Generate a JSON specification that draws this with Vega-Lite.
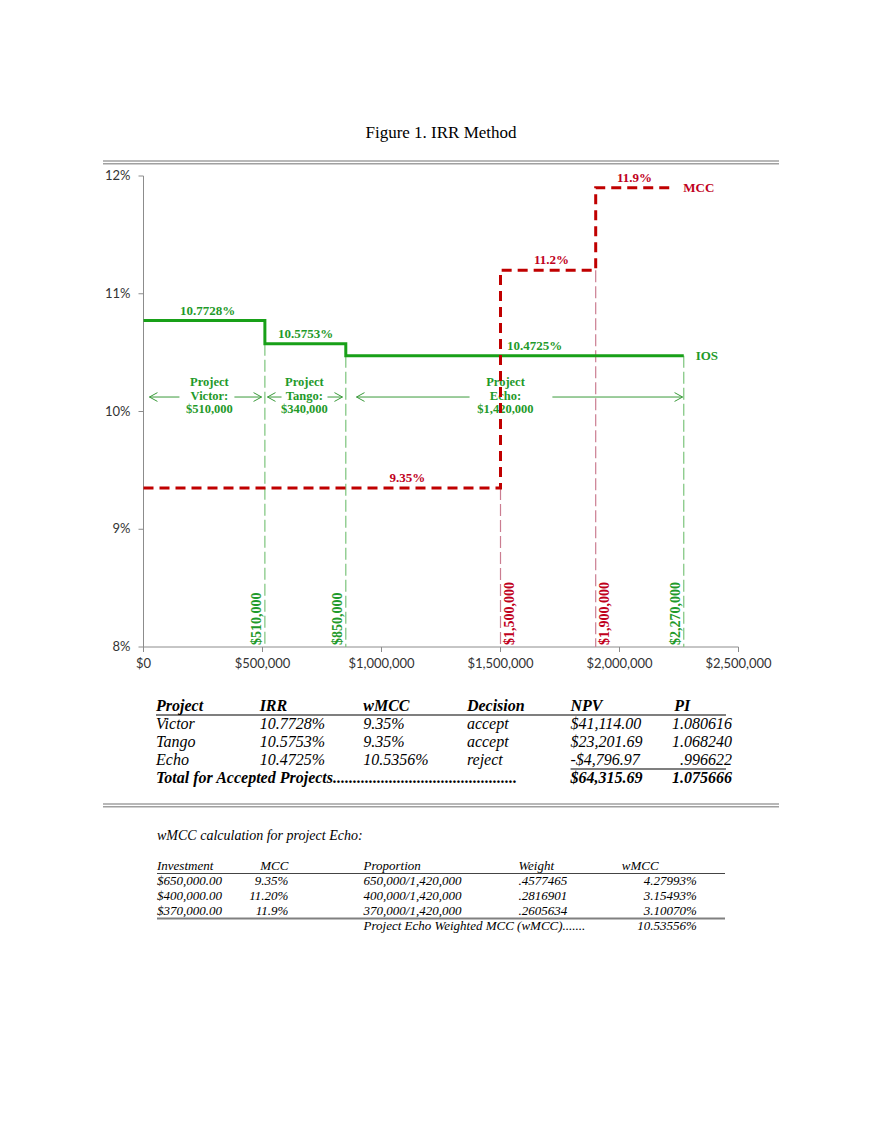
{
  "$schema": "https://vega.github.io/schema/vega-lite/v6.json",
  "padding": {"left": 102, "top": 124, "right": 10, "bottom": 10},
  "title": {"text": "Figure 1. IRR Method", "font": "Liberation Serif", "fontSize": 17, "fontWeight": "normal", "color": "#000000", "anchor": "middle", "offset": 18},
  "bounds": "flush",
  "center": true,
  "spacing": 0,
  "config": {"view": {"stroke": null}},
  "datasets": {
    "xticks": [
      {"amount": 0, "base": 8},
      {"amount": 500000, "base": 8},
      {"amount": 1000000, "base": 8},
      {"amount": 1500000, "base": 8},
      {"amount": 2000000, "base": 8},
      {"amount": 2500000, "base": 8}
    ],
    "yticks": [
      {"rate": 8, "amount": 0, "label": "8%"},
      {"rate": 9, "amount": 0, "label": "9%"},
      {"rate": 10, "amount": 0, "label": "10%"},
      {"rate": 11, "amount": 0, "label": "11%"},
      {"rate": 12, "amount": 0, "label": "12%"}
    ],
    "ios": [
      {"amount": 0, "rate": 10.7728},
      {"amount": 510000, "rate": 10.5753},
      {"amount": 850000, "rate": 10.4725},
      {"amount": 2270000, "rate": 10.4725}
    ],
    "mcc": [
      {"amount": 0, "rate": 9.35},
      {"amount": 1500000, "rate": 11.2},
      {"amount": 1900000, "rate": 11.9},
      {"amount": 2230000, "rate": 11.9}
    ],
    "guides": [
      {"amount": 510000, "rate": 10.5753, "base": 8, "series": "IOS"},
      {"amount": 850000, "rate": 10.4725, "base": 8, "series": "IOS"},
      {"amount": 2270000, "rate": 10.4725, "base": 8, "series": "IOS"},
      {"amount": 1500000, "rate": 9.35, "base": 8, "series": "MCC"},
      {"amount": 1900000, "rate": 11.2, "base": 8, "series": "MCC"}
    ],
    "labels": [
      {"series": "IOS", "kind": "value", "text": "10.7728%", "amount": 269000, "rate": 10.7728},
      {"series": "IOS", "kind": "value", "text": "10.5753%", "amount": 681000, "rate": 10.5753},
      {"series": "IOS", "kind": "value", "text": "10.4725%", "amount": 1643000, "rate": 10.4725},
      {"series": "MCC", "kind": "value", "text": "9.35%", "amount": 1109000, "rate": 9.35},
      {"series": "MCC", "kind": "value", "text": "11.2%", "amount": 1714000, "rate": 11.2},
      {"series": "MCC", "kind": "value", "text": "11.9%", "amount": 2063000, "rate": 11.9},
      {"series": "IOS", "kind": "name", "text": "IOS", "amount": 2320000, "rate": 10.4725},
      {"series": "MCC", "kind": "name", "text": "MCC", "amount": 2268000, "rate": 11.9}
    ],
    "spans": [
      {"project": "Victor", "label": "Project\nVictor:\n$510,000", "mid": 277000, "leftTip": 25000, "leftTail": 151000, "rightTail": 382000, "rightTip": 496000, "rate": 10.123},
      {"project": "Tango", "label": "Project\nTango:\n$340,000", "mid": 676000, "leftTip": 521000, "leftTail": 580000, "rightTail": 773000, "rightTip": 836000, "rate": 10.123},
      {"project": "Echo", "label": "Project\nEcho:\n$1,420,000", "mid": 1521000, "leftTip": 895000, "leftTail": 1370000, "rightTail": 1718000, "rightTip": 2265000, "rate": 10.123}
    ],
    "table1": [
      {"row": "header", "col": "Project", "text": "Project"},
      {"row": "header", "col": "IRR", "text": "IRR"},
      {"row": "header", "col": "wMCC", "text": "wMCC"},
      {"row": "header", "col": "Decision", "text": "Decision"},
      {"row": "header", "col": "NPV", "text": "NPV"},
      {"row": "header", "col": "PI", "text": "PI"},
      {"row": "Victor", "col": "Project", "text": "Victor"},
      {"row": "Victor", "col": "IRR", "text": "10.7728%"},
      {"row": "Victor", "col": "wMCC", "text": "9.35%"},
      {"row": "Victor", "col": "Decision", "text": "accept"},
      {"row": "Victor", "col": "NPV", "text": "$41,114.00"},
      {"row": "Victor", "col": "end", "text": "1.080616"},
      {"row": "Tango", "col": "Project", "text": "Tango"},
      {"row": "Tango", "col": "IRR", "text": "10.5753%"},
      {"row": "Tango", "col": "wMCC", "text": "9.35%"},
      {"row": "Tango", "col": "Decision", "text": "accept"},
      {"row": "Tango", "col": "NPV", "text": "$23,201.69"},
      {"row": "Tango", "col": "end", "text": "1.068240"},
      {"row": "Echo", "col": "Project", "text": "Echo"},
      {"row": "Echo", "col": "IRR", "text": "10.4725%"},
      {"row": "Echo", "col": "wMCC", "text": "10.5356%"},
      {"row": "Echo", "col": "Decision", "text": "reject"},
      {"row": "Echo", "col": "NPV", "text": "-$4,796.97"},
      {"row": "Echo", "col": "end", "text": ".996622"},
      {"row": "Total", "col": "Project", "text": "Total for Accepted Projects.............................................."},
      {"row": "Total", "col": "NPV", "text": "$64,315.69"},
      {"row": "Total", "col": "end", "text": "1.075666"}
    ],
    "table1Lines": [
      {"row": "u1", "from": "Project", "to": "end"},
      {"row": "u2", "from": "NPV", "to": "end"}
    ],
    "table2": [
      {"row": "title", "col": "Investment", "text": "wMCC calculation for project Echo:"},
      {"row": "header", "col": "Investment", "text": "Investment"},
      {"row": "header", "col": "MCC", "text": "MCC"},
      {"row": "header", "col": "Proportion", "text": "Proportion"},
      {"row": "header", "col": "Weight", "text": "Weight"},
      {"row": "header", "col": "wMCC", "text": "wMCC"},
      {"row": "r1", "col": "Investment", "text": "$650,000.00"},
      {"row": "r1", "col": "MCC", "text": "9.35%"},
      {"row": "r1", "col": "Proportion", "text": "650,000/1,420,000"},
      {"row": "r1", "col": "Weight", "text": ".4577465"},
      {"row": "r1", "col": "wMCC", "text": "4.27993%"},
      {"row": "r2", "col": "Investment", "text": "$400,000.00"},
      {"row": "r2", "col": "MCC", "text": "11.20%"},
      {"row": "r2", "col": "Proportion", "text": "400,000/1,420,000"},
      {"row": "r2", "col": "Weight", "text": ".2816901"},
      {"row": "r2", "col": "wMCC", "text": "3.15493%"},
      {"row": "r3", "col": "Investment", "text": "$370,000.00"},
      {"row": "r3", "col": "MCC", "text": "11.9%"},
      {"row": "r3", "col": "Proportion", "text": "370,000/1,420,000"},
      {"row": "r3", "col": "Weight", "text": ".2605634"},
      {"row": "r3", "col": "wMCC", "text": "3.10070%"},
      {"row": "total", "col": "Proportion", "text": "Project Echo Weighted MCC (wMCC)......."},
      {"row": "total", "col": "wMCC", "text": "10.53556%"}
    ],
    "table2Lines": [
      {"row": "u1", "from": "Investment", "to": "end"},
      {"row": "u2", "from": "Investment", "to": "end"}
    ]
  },
  "vconcat": [
    {
      "width": 676,
      "height": 2.7,
      "data": {"values": [{"line": "a"}, {"line": "b"}]},
      "mark": {"type": "rule", "color": "#a0a0a0", "strokeWidth": 1.4},
      "encoding": {"y": {"field": "line", "type": "nominal", "scale": {"type": "point", "padding": 0}, "axis": null}}
    },
    {"width": 10, "height": 11.3, "data": {"values": []}, "mark": "text"},
    {
      "width": 595,
      "height": 471,
      "encoding": {
        "x": {"field": "amount", "type": "quantitative", "scale": {"domain": [0, 2500000], "nice": false, "zero": false}, "axis": null},
        "y": {"field": "rate", "type": "quantitative", "scale": {"domain": [8, 12], "nice": false, "zero": false}, "axis": null}
      },
      "layer": [
        {
          "data": {"name": "xticks"},
          "mark": {"type": "rule", "color": "#8c8c8c", "strokeWidth": 1},
          "encoding": {
            "x": {"aggregate": "min", "field": "amount", "type": "quantitative", "scale": {"domain": [0, 2500000], "nice": false, "zero": false}, "axis": null},
            "x2": {"aggregate": "max", "field": "amount"},
            "y": {"field": "base", "type": "quantitative", "scale": {"domain": [8, 12], "nice": false, "zero": false}, "axis": null}
          }
        },
        {
          "data": {"name": "yticks"},
          "mark": {"type": "rule", "color": "#8c8c8c", "strokeWidth": 1},
          "encoding": {
            "y": {"aggregate": "min", "field": "rate", "type": "quantitative", "scale": {"domain": [8, 12], "nice": false, "zero": false}, "axis": null},
            "y2": {"aggregate": "max", "field": "rate"}
          }
        },
        {
          "data": {"name": "xticks"},
          "mark": {"type": "point", "shape": "M0,0L0,1.25", "filled": false, "size": 64, "color": "#8c8c8c", "strokeWidth": 1, "opacity": 1},
          "encoding": {
            "y": {"field": "base", "type": "quantitative", "scale": {"domain": [8, 12], "nice": false, "zero": false}, "axis": null}
          }
        },
        {
          "data": {"name": "yticks"},
          "mark": {"type": "point", "shape": "M0,0L-1.25,0", "filled": false, "size": 64, "color": "#8c8c8c", "strokeWidth": 1, "opacity": 1}
        },
        {
          "data": {"name": "xticks"},
          "mark": {"type": "text", "font": "Lato", "fontSize": 13, "color": "#333333", "align": "center", "baseline": "top", "dy": 11},
          "encoding": {
            "y": {"field": "base", "type": "quantitative", "scale": {"domain": [8, 12], "nice": false, "zero": false}, "axis": null},
            "text": {"field": "amount", "type": "quantitative", "format": "$,.0f"}
          }
        },
        {
          "data": {"name": "yticks"},
          "mark": {"type": "text", "font": "Lato", "fontSize": 13, "color": "#333333", "align": "right", "baseline": "middle", "dx": -13},
          "encoding": {"text": {"field": "label"}}
        },
        {
          "data": {"name": "guides"},
          "transform": [{"filter": "datum.series == 'IOS'"}],
          "mark": {"type": "rule", "color": "#7cc47c", "strokeWidth": 1.2, "strokeDash": [12, 4]},
          "encoding": {"y2": {"field": "base"}}
        },
        {
          "data": {"name": "guides"},
          "transform": [{"filter": "datum.series == 'MCC'"}],
          "mark": {"type": "rule", "color": "#cb7d91", "strokeWidth": 1.2, "strokeDash": [12, 4]},
          "encoding": {"y2": {"field": "base"}}
        },
        {
          "data": {"name": "spans"},
          "mark": {"type": "rule", "color": "#3a9a3a", "strokeWidth": 1},
          "encoding": {
            "x": {"field": "leftTip", "type": "quantitative", "scale": {"domain": [0, 2500000], "nice": false, "zero": false}, "axis": null},
            "x2": {"field": "leftTail"}
          }
        },
        {
          "data": {"name": "spans"},
          "mark": {"type": "rule", "color": "#3a9a3a", "strokeWidth": 1},
          "encoding": {
            "x": {"field": "rightTail", "type": "quantitative", "scale": {"domain": [0, 2500000], "nice": false, "zero": false}, "axis": null},
            "x2": {"field": "rightTip"}
          }
        },
        {
          "data": {"name": "spans"},
          "mark": {"type": "point", "shape": "M2,-1.1L0,0L2,1.1", "filled": false, "size": 64, "color": "#3a9a3a", "strokeWidth": 1, "opacity": 1},
          "encoding": {
            "x": {"field": "leftTip", "type": "quantitative", "scale": {"domain": [0, 2500000], "nice": false, "zero": false}, "axis": null}
          }
        },
        {
          "data": {"name": "spans"},
          "mark": {"type": "point", "shape": "M-2,-1.1L0,0L-2,1.1", "filled": false, "size": 64, "color": "#3a9a3a", "strokeWidth": 1, "opacity": 1},
          "encoding": {
            "x": {"field": "rightTip", "type": "quantitative", "scale": {"domain": [0, 2500000], "nice": false, "zero": false}, "axis": null}
          }
        },
        {
          "data": {"name": "spans"},
          "mark": {"type": "text", "font": "Liberation Serif", "fontWeight": "bold", "fontSize": 12.5, "color": "#1f9a2a", "lineBreak": "\n", "lineHeight": 13.5, "align": "center", "baseline": "middle", "dy": -15},
          "encoding": {
            "x": {"field": "mid", "type": "quantitative", "scale": {"domain": [0, 2500000], "nice": false, "zero": false}, "axis": null},
            "text": {"field": "label"}
          }
        },
        {
          "data": {"name": "ios"},
          "mark": {"type": "line", "interpolate": "step-after", "color": "#18a018", "strokeWidth": 3}
        },
        {
          "data": {"name": "mcc"},
          "mark": {"type": "line", "interpolate": "step-after", "color": "#c00000", "strokeWidth": 3, "strokeDash": [10, 6]}
        },
        {
          "data": {"name": "labels"},
          "transform": [{"filter": "datum.kind == 'value'"}],
          "mark": {"type": "text", "font": "Liberation Serif", "fontWeight": "bold", "fontSize": 13, "align": "center", "baseline": "bottom", "dy": -3},
          "encoding": {
            "text": {"field": "text"},
            "color": {"field": "series", "type": "nominal", "scale": {"domain": ["IOS", "MCC"], "range": ["#1f9a2a", "#c0001c"]}, "legend": null}
          }
        },
        {
          "data": {"name": "labels"},
          "transform": [{"filter": "datum.kind == 'name'"}],
          "mark": {"type": "text", "font": "Liberation Serif", "fontWeight": "bold", "fontSize": 13, "align": "left", "baseline": "middle"},
          "encoding": {
            "text": {"field": "text"},
            "color": {"field": "series", "type": "nominal", "scale": {"domain": ["IOS", "MCC"], "range": ["#1f9a2a", "#c0001c"]}, "legend": null}
          }
        },
        {
          "data": {"name": "guides"},
          "transform": [{"filter": "datum.series == 'IOS'"}],
          "mark": {"type": "text", "font": "Liberation Serif", "fontWeight": "bold", "fontSize": 14, "color": "#1f9a2a", "angle": 270, "align": "left", "baseline": "bottom", "dx": 2, "dy": -1},
          "encoding": {
            "y": {"field": "base", "type": "quantitative", "scale": {"domain": [8, 12], "nice": false, "zero": false}, "axis": null},
            "text": {"field": "amount", "type": "quantitative", "format": "$,.0f"}
          }
        },
        {
          "data": {"name": "guides"},
          "transform": [{"filter": "datum.series == 'MCC'"}],
          "mark": {"type": "text", "font": "Liberation Serif", "fontWeight": "bold", "fontSize": 14, "color": "#c0001c", "angle": 270, "align": "left", "baseline": "top", "dx": 2, "dy": 2},
          "encoding": {
            "y": {"field": "base", "type": "quantitative", "scale": {"domain": [8, 12], "nice": false, "zero": false}, "axis": null},
            "text": {"field": "amount", "type": "quantitative", "format": "$,.0f"}
          }
        }
      ]
    },
    {"width": 10, "height": 59, "data": {"values": []}, "mark": "text"},
    {
      "width": 570,
      "height": 72,
      "encoding": {
        "x": {"field": "col", "type": "nominal", "scale": {"type": "point", "padding": 0, "domain": ["Project", "t1", "IRR", "t3", "wMCC", "t5", "Decision", "t7", "NPV", "t9", "PI", "end"]}, "axis": null},
        "y": {"field": "row", "type": "nominal", "scale": {"type": "point", "padding": 0, "domain": ["header", "u1", "Victor", "s1", "Tango", "s2", "Echo", "u2", "Total"]}, "axis": null},
        "text": {"field": "text"}
      },
      "layer": [
        {
          "data": {"name": "table1Lines"},
          "mark": {"type": "rule", "color": "#000000", "strokeWidth": 1.2},
          "encoding": {
            "x": {"field": "from", "type": "nominal", "scale": {"type": "point", "padding": 0, "domain": ["Project", "t1", "IRR", "t3", "wMCC", "t5", "Decision", "t7", "NPV", "t9", "PI", "end"]}, "axis": null},
            "x2": {"field": "to"}
          }
        },
        {
          "data": {"name": "table1"},
          "transform": [{"filter": "(datum.row == 'header' || datum.row == 'Total') && datum.col != 'end'"}],
          "mark": {"type": "text", "font": "Liberation Serif", "fontStyle": "italic", "fontWeight": "bold", "fontSize": 16, "color": "#000000", "align": "left", "baseline": "middle"}
        },
        {
          "data": {"name": "table1"},
          "transform": [{"filter": "(datum.row == 'header' || datum.row == 'Total') && datum.col == 'end'"}],
          "mark": {"type": "text", "font": "Liberation Serif", "fontStyle": "italic", "fontWeight": "bold", "fontSize": 16, "color": "#000000", "align": "right", "baseline": "middle", "dx": 6}
        },
        {
          "data": {"name": "table1"},
          "transform": [{"filter": "datum.row != 'header' && datum.row != 'Total' && datum.col != 'end'"}],
          "mark": {"type": "text", "font": "Liberation Serif", "fontStyle": "italic", "fontSize": 16, "color": "#000000", "align": "left", "baseline": "middle"}
        },
        {
          "data": {"name": "table1"},
          "transform": [{"filter": "datum.row != 'header' && datum.row != 'Total' && datum.col == 'end'"}],
          "mark": {"type": "text", "font": "Liberation Serif", "fontStyle": "italic", "fontSize": 16, "color": "#000000", "align": "right", "baseline": "middle", "dx": 6}
        }
      ]
    },
    {"width": 10, "height": 25.7, "data": {"values": []}, "mark": "text"},
    {
      "width": 676,
      "height": 2.7,
      "data": {"values": [{"line": "a"}, {"line": "b"}]},
      "mark": {"type": "rule", "color": "#a0a0a0", "strokeWidth": 1.4},
      "encoding": {"y": {"field": "line", "type": "nominal", "scale": {"type": "point", "padding": 0}, "axis": null}}
    },
    {"width": 10, "height": 29, "data": {"values": []}, "mark": "text"},
    {
      "width": 568,
      "height": 90,
      "encoding": {
        "x": {"field": "col", "type": "nominal", "scale": {"type": "point", "padding": 0, "domain": ["Investment", "t1", "MCC", "t3", "Proportion", "t5", "t6", "Weight", "t8", "wMCC", "t10", "end"]}, "axis": null},
        "y": {"field": "row", "type": "nominal", "scale": {"type": "point", "padding": 0, "domain": ["title", "g1", "g2", "g3", "header", "u1", "r1", "s1", "r2", "s2", "r3", "u2", "total"]}, "axis": null},
        "text": {"field": "text"}
      },
      "layer": [
        {
          "data": {"name": "table2Lines"},
          "transform": [{"filter": "datum.row == 'u1'"}],
          "mark": {"type": "rule", "color": "#444444", "strokeWidth": 1},
          "encoding": {
            "x": {"field": "from", "type": "nominal", "scale": {"type": "point", "padding": 0, "domain": ["Investment", "t1", "MCC", "t3", "Proportion", "t5", "t6", "Weight", "t8", "wMCC", "t10", "end"]}, "axis": null},
            "x2": {"field": "to"}
          }
        },
        {
          "data": {"name": "table2Lines"},
          "transform": [{"filter": "datum.row == 'u2'"}],
          "mark": {"type": "rule", "color": "#808080", "strokeWidth": 1.8},
          "encoding": {
            "x": {"field": "from", "type": "nominal", "scale": {"type": "point", "padding": 0, "domain": ["Investment", "t1", "MCC", "t3", "Proportion", "t5", "t6", "Weight", "t8", "wMCC", "t10", "end"]}, "axis": null},
            "x2": {"field": "to"}
          }
        },
        {
          "data": {"name": "table2"},
          "transform": [{"filter": "datum.row == 'title'"}],
          "mark": {"type": "text", "font": "Liberation Serif", "fontStyle": "italic", "fontSize": 14, "color": "#000000", "align": "left", "baseline": "middle"}
        },
        {
          "data": {"name": "table2"},
          "transform": [{"filter": "datum.row != 'title' && (datum.row == 'header' || (datum.col != 'MCC' && datum.col != 'wMCC'))"}],
          "mark": {"type": "text", "font": "Liberation Serif", "fontStyle": "italic", "fontSize": 13, "color": "#000000", "align": "left", "baseline": "middle"}
        },
        {
          "data": {"name": "table2"},
          "transform": [{"filter": "datum.row != 'header' && datum.col == 'MCC'"}],
          "mark": {"type": "text", "font": "Liberation Serif", "fontStyle": "italic", "fontSize": 13, "color": "#000000", "align": "right", "baseline": "middle", "dx": 28}
        },
        {
          "data": {"name": "table2"},
          "transform": [{"filter": "datum.row != 'header' && datum.col == 'wMCC'"}],
          "mark": {"type": "text", "font": "Liberation Serif", "fontStyle": "italic", "fontSize": 13, "color": "#000000", "align": "right", "baseline": "middle", "dx": 75}
        }
      ]
    }
  ]
}
